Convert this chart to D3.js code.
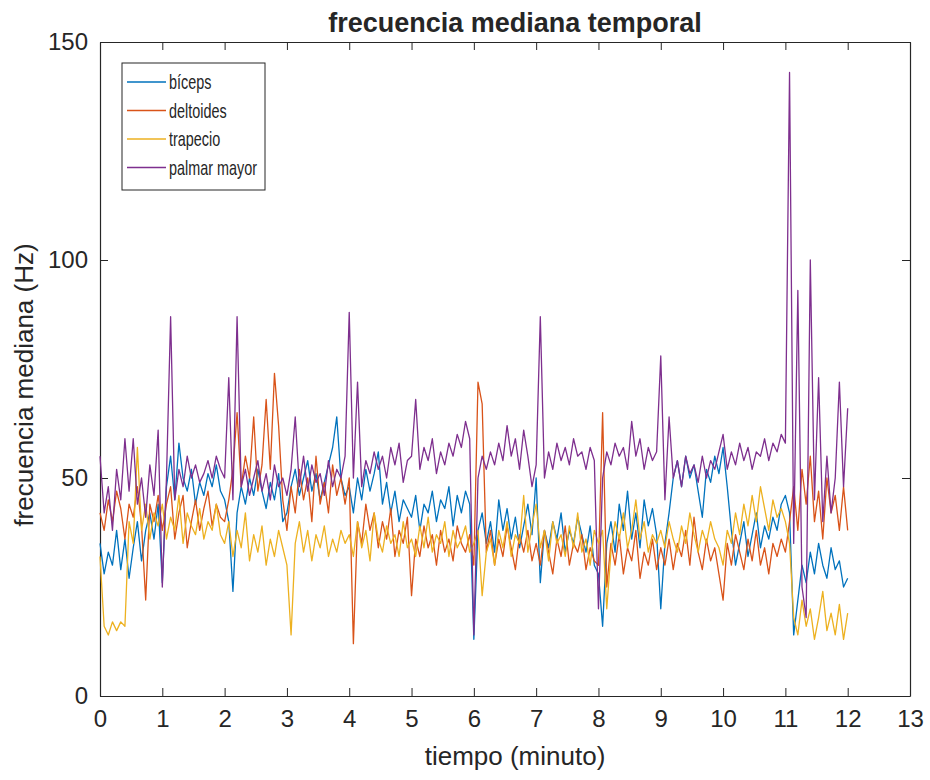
<!DOCTYPE html>
<html>
<head>
<meta charset="utf-8">
<script src="https://cdn.jsdelivr.net/npm/d3@7"></script>
<style>
body { margin: 0; background: #fff; }
svg text { font-family: "Liberation Sans", Arial, Helvetica, sans-serif; fill: #262626; }
</style>
</head>
<body>
<svg width="930" height="780"></svg>
<script>
// muestras cada 4 s, de 0 a 12 minutos
const tiempo = d3.range(181).map(i => i / 15);

const biceps = [
  35,28,33,30,38,29,36,27,34,40,31,38,42,36,44,
  26,48,55,45,58,50,47,52,44,49,46,51,48,53,47,
  45,40,24,42,48,44,50,46,52,47,43,49,45,51,40,
  42,48,52,46,50,54,47,51,45,49,53,57,64,50,46,
  48,42,50,45,52,47,51,56,44,49,42,47,40,45,43,
  41,46,38,44,42,47,40,45,43,48,39,46,42,47,44,
  13,38,42,35,40,33,45,38,43,36,41,34,39,44,37,
  50,26,38,34,40,36,42,33,38,35,41,37,33,39,30,
  28,16,35,40,33,44,38,47,36,42,34,45,39,43,37,
  20,35,42,50,54,48,55,50,53,47,41,52,49,55,51,
  57,48,38,30,35,40,32,37,42,34,39,36,41,38,44,
  46,42,14,22,30,26,33,28,35,30,27,34,29,31,25,
  27
];
const deltoides = [
  42,38,45,40,47,43,36,44,41,48,39,22,44,40,46,
  38,44,48,36,42,46,34,40,45,38,43,47,39,44,41,
  40,45,52,65,48,55,50,64,47,53,68,52,74,62,45,
  38,48,42,52,45,50,40,55,44,49,42,53,46,50,44,
  50,12,40,35,44,38,42,34,40,36,43,32,38,35,41,
  23,36,32,39,34,37,30,38,33,36,31,39,35,33,37,
  30,72,67,33,38,30,36,32,39,34,29,37,33,38,31,
  35,30,38,33,28,36,32,39,30,35,33,37,29,34,31,
  30,65,25,35,30,37,28,34,31,38,27,33,30,36,29,
  34,30,36,29,35,32,38,30,41,33,29,36,31,34,28,
  22,35,30,37,33,29,36,31,38,30,34,28,35,32,36,
  33,40,48,38,52,44,55,40,47,36,50,42,46,38,48,
  38
];
const trapecio = [
  32,16,14,17,15,17,16,40,35,57,38,44,36,42,39,
  44,36,41,38,46,35,42,39,37,43,36,40,38,44,37,
  35,40,32,38,34,42,31,37,33,39,30,36,32,38,34,
  30,14,35,40,33,38,31,37,34,39,32,36,33,38,35,
  37,32,40,34,38,31,42,36,33,39,35,37,32,40,34,
  36,32,39,34,41,33,37,35,40,32,38,34,36,39,33,
  35,38,23,33,36,30,38,34,40,32,37,35,46,33,39,
  44,34,38,31,40,35,37,32,39,34,42,33,36,30,38,
  35,38,20,33,40,36,42,34,38,45,36,40,33,37,35,
  38,34,40,36,33,39,35,42,37,33,38,35,40,36,34,
  30,38,35,42,37,44,39,46,40,48,43,38,45,41,43,
  40,35,18,14,22,16,20,13,18,24,15,19,14,21,13,
  19
];
const palmar = [
  55,42,48,38,52,45,59,47,59,44,50,41,53,46,61,
  25,50,87,45,52,48,55,50,53,49,51,54,50,55,52,
  50,73,45,87,48,52,46,50,54,47,51,45,53,48,50,
  46,52,64,48,55,47,53,49,51,46,54,48,52,50,55,
  88,50,72,48,54,51,56,52,55,50,57,53,58,49,54,
  55,68,52,57,54,59,51,56,53,58,55,60,57,63,59,
  14,50,55,52,56,53,58,54,62,55,59,52,61,55,48,
  53,87,50,56,52,58,54,57,53,59,55,56,52,57,54,
  20,50,56,53,58,55,57,52,63,55,59,52,57,54,56,
  78,45,64,50,54,48,55,51,53,49,55,50,54,52,56,
  60,52,56,53,58,54,57,52,56,55,59,54,58,56,60,
  58,143,35,93,25,18,100,45,73,40,55,42,50,72,48,
  66
];

const nombres = ['bíceps', 'deltoides', 'trapecio', 'palmar mayor'];
const colores = ['#0072BD', '#D95319', '#EDB120', '#7E2F8E'];
const xTicks = d3.range(0, 14);
const yTicks = [0, 50, 100, 150];

const series = [biceps, deltoides, trapecio, palmar];

const svg = d3.select('svg');
svg.append('rect').attr('width', 930).attr('height', 780).attr('fill', '#fff');

const margin = {top: 42, left: 100, right: 20, bottom: 84};
const inner_width = 930 - margin.left - margin.right;
const inner_height = 780 - margin.top - margin.bottom;

const g = svg.append('g')
    .attr('transform', `translate(${margin.left},${margin.top})`);

const xscale = d3.scaleLinear().domain([0, 13]).range([0, inner_width]);
const yscale = d3.scaleLinear().domain([0, 150]).range([inner_height, 0]);

// ejes con marcas hacia dentro, caja completa
const styleAxis = sel => {
    sel.selectAll('.domain').attr('stroke', '#262626');
    sel.selectAll('.tick line').attr('stroke', '#262626');
    sel.selectAll('.tick text').attr('font-size', 24).attr('fill', '#262626');
};

g.append('g')
    .attr('transform', `translate(0,${inner_height})`)
    .call(d3.axisBottom(xscale).tickValues(xTicks).tickSizeInner(-8).tickSizeOuter(0).tickPadding(14))
    .call(styleAxis);
g.append('g')
    .call(d3.axisTop(xscale).tickValues(xTicks).tickSizeInner(-8).tickSizeOuter(0).tickFormat(''))
    .call(styleAxis);
g.append('g')
    .call(d3.axisLeft(yscale).tickValues(yTicks).tickSizeInner(-8).tickSizeOuter(0).tickPadding(12))
    .call(styleAxis);
g.append('g')
    .attr('transform', `translate(${inner_width},0)`)
    .call(d3.axisRight(yscale).tickValues(yTicks).tickSizeInner(-8).tickSizeOuter(0).tickFormat(''))
    .call(styleAxis);
g.selectAll('.domain').attr('stroke-width', 1.2);

const line = d3.line()
    .x((d, i) => xscale(tiempo[i]))
    .y(d => yscale(d));

series.forEach((s, k) => {
    g.append('path')
        .datum(s)
        .attr('fill', 'none')
        .attr('stroke', colores[k])
        .attr('stroke-width', 1.3)
        .attr('stroke-linejoin', 'round')
        .attr('d', line);
});

// titulo y etiquetas
svg.append('text')
    .attr('x', 515).attr('y', 32)
    .attr('text-anchor', 'middle')
    .attr('font-size', 27).attr('font-weight', 'bold')
    .attr('fill', '#000')
    .text('frecuencia mediana temporal');

svg.append('text')
    .attr('x', 515).attr('y', 765)
    .attr('text-anchor', 'middle')
    .attr('font-size', 26)
    .text('tiempo (minuto)');

svg.append('text')
    .attr('transform', 'translate(33,385) rotate(-90)')
    .attr('text-anchor', 'middle')
    .attr('font-size', 26)
    .text('frecuencia mediana (Hz)');

// leyenda (texto estrecho como en la figura original)
const leg = svg.append('g');
leg.append('rect')
    .attr('x', 122).attr('y', 63)
    .attr('width', 143).attr('height', 127)
    .attr('fill', '#fff').attr('stroke', '#262626').attr('stroke-width', 1);

nombres.forEach((n, k) => {
    const yy = 82 + k * 28.5;
    leg.append('line')
        .attr('x1', 127).attr('x2', 166)
        .attr('y1', yy).attr('y2', yy)
        .attr('stroke', colores[k]).attr('stroke-width', 1.3);
    leg.append('text')
        .attr('transform', `translate(169,${yy}) scale(0.72,1)`)
        .attr('dy', '0.36em')
        .attr('font-size', 20)
        .text(n);
});
</script>
</body>
</html>
